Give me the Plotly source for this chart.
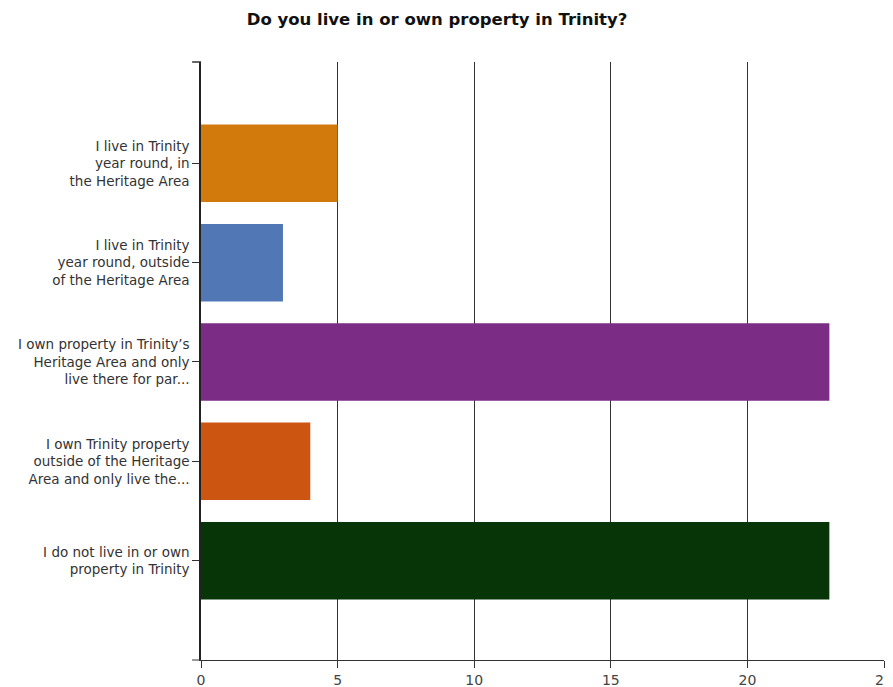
import plotly.graph_objects as go

categories = [
    "I live in Trinity<br>year round, in<br>the Heritage Area",
    "I live in Trinity<br>year round, outside<br>of the Heritage Area",
    "I own property in Trinity’s<br>Heritage Area and only<br>live there for par...",
    "I own Trinity property<br>outside of the Heritage<br>Area and only live the...",
    "I do not live in or own<br>property in Trinity",
]
values = [5, 3, 23, 4, 23]
colors = ["#D27A0C", "#5177B5", "#7B2D86", "#CC5512", "#073508"]
x_ticks = [0, 5, 10, 15, 20, 25]

# the page body adds an 8px margin, so the figure is sized to fit the 893x687 window
W, H = 885, 679

fig = go.Figure()
fig.add_trace(go.Bar(
    y=list(range(len(categories))), x=values, orientation="h",
    marker=dict(color=colors, line=dict(width=0)),
    width=0.78,
))

fig.update_layout(
    width=W, height=H,
    margin=dict(l=193, r=9, t=54, b=27, autoexpand=False),
    paper_bgcolor="white", plot_bgcolor="white",
    showlegend=False,
    title=dict(text="<b>Do you live in or own property in Trinity?</b>",
               x=429 / W, xanchor="center", yref="container", y=1 - 11 / H, yanchor="middle",
               font=dict(family="DejaVu Sans", size=16.5, color="#111")),
    font=dict(family="DejaVu Sans", size=14, color="#333"),
)
fig.update_xaxes(
    range=[0, 25], tickvals=x_ticks, ticktext=[str(t) for t in x_ticks],
    showgrid=True, gridcolor="#333", gridwidth=1,
    ticks="outside", ticklen=7, tickcolor="#333",
    showline=True, linecolor="#333", linewidth=1,
    zeroline=False, tickfont=dict(family="DejaVu Sans", size=14, color="#444"),
    automargin=False,
)
fig.update_yaxes(
    range=[5.0, -1.02], tickvals=list(range(len(categories))), ticktext=categories,
    showgrid=False, ticks="outside", ticklen=7, tickcolor="#333",
    showline=True, linecolor="#222", linewidth=1.5,
    zeroline=False, tickfont=dict(family="DejaVu Sans", size=13.5, color="#333"),
    automargin=False,
)
# small corner ticks at axis ends (decorative)
fig.add_shape(type="line", xref="paper", yref="paper", x0=-0.013, x1=0, y0=1, y1=1,
              line=dict(color="#333", width=1.5))
fig.add_shape(type="line", xref="paper", yref="paper", x0=-0.013, x1=0, y0=0, y1=0,
              line=dict(color="#333", width=1))
fig.write_html("out.html")
